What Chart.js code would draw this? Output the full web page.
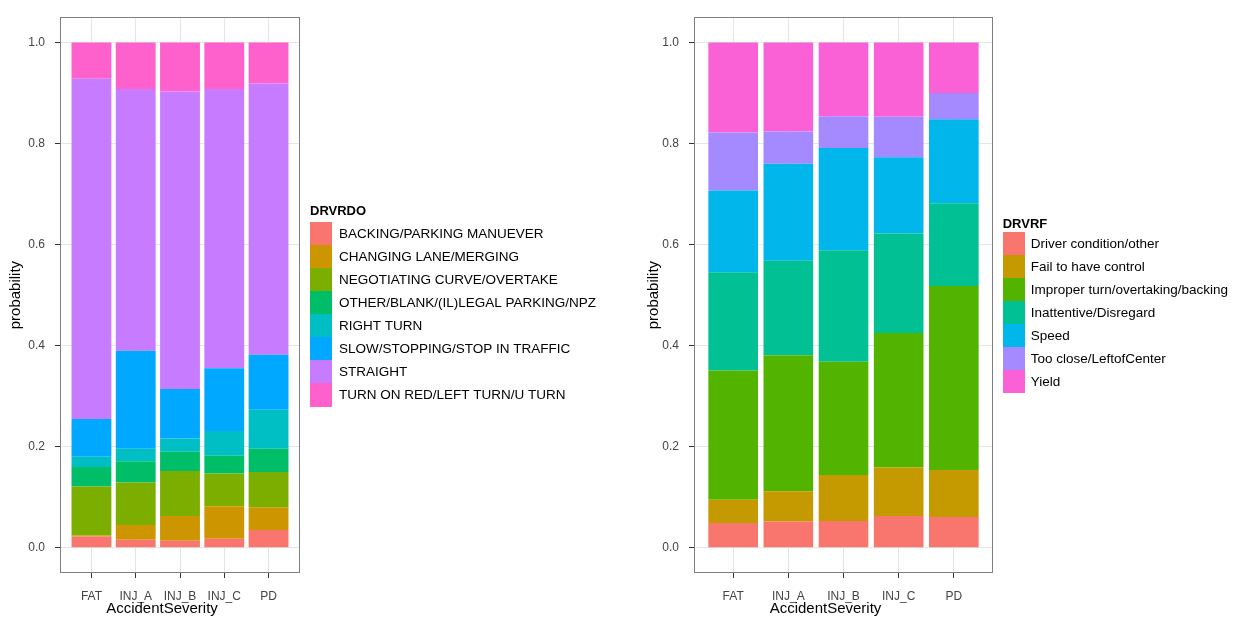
<!DOCTYPE html>
<html>
<head>
<meta charset="utf-8">
<title>Driver action and driver factor by accident severity</title>
<script src="https://cdn.jsdelivr.net/npm/chart.js@4.4.0/dist/chart.umd.min.js"></script>
<style>
  html, body { margin: 0; padding: 0; background: #ffffff; }
  #wrap { position: relative; width: 1242px; height: 618px; overflow: hidden; background: #ffffff; }
  .panel { position: absolute; top: 0; height: 618px; }
  canvas { display: block; }
</style>
</head>
<body>
<div id="wrap">
  <div class="panel" style="left:0; width:621px;"><canvas id="drvrdoChart" width="621" height="618"></canvas></div>
  <div class="panel" style="left:621px; width:621px;"><canvas id="drvrfChart" width="621" height="618"></canvas></div>
</div>
<script>
// Accident severity levels on the x axis
const severity = ['FAT', 'INJ_A', 'INJ_B', 'INJ_C', 'PD'];
// Probability axis tick values
const probTicks = [0, 0.2, 0.4, 0.6, 0.8, 1.0];

// DRVRDO (driver action) - share within each severity level
const drvrdoLabels = [
  'BACKING/PARKING MANUEVER',
  'CHANGING LANE/MERGING',
  'NEGOTIATING CURVE/OVERTAKE',
  'OTHER/BLANK/(IL)LEGAL PARKING/NPZ',
  'RIGHT TURN',
  'SLOW/STOPPING/STOP IN TRAFFIC',
  'STRAIGHT',
  'TURN ON RED/LEFT TURN/U TURN'
];
const backingParking   = [0.022, 0.016, 0.014, 0.018, 0.035];
const changingLane     = [0.002, 0.029, 0.049, 0.064, 0.045];
const negotiatingCurve = [0.097, 0.084, 0.089, 0.065, 0.070];
const otherParking     = [0.039, 0.042, 0.038, 0.035, 0.046];
const rightTurn        = [0.020, 0.025, 0.026, 0.049, 0.077];
const slowStopping     = [0.075, 0.194, 0.098, 0.124, 0.109];
const straight         = [0.673, 0.518, 0.589, 0.553, 0.537];
const turnOnRed        = [0.072, 0.092, 0.097, 0.092, 0.081];

// DRVRF (driver factor) - share within each severity level
const drvrfLabels = [
  'Driver condition/other',
  'Fail to have control',
  'Improper turn/overtaking/backing',
  'Inattentive/Disregard',
  'Speed',
  'Too close/LeftofCenter',
  'Yield'
];
const driverCondition = [0.049, 0.052, 0.053, 0.063, 0.061];
const failControl     = [0.046, 0.060, 0.091, 0.096, 0.093];
const improperTurn    = [0.256, 0.269, 0.224, 0.266, 0.364];
const inattentive     = [0.194, 0.187, 0.221, 0.197, 0.164];
const speed           = [0.162, 0.192, 0.202, 0.151, 0.166];
const tooClose        = [0.115, 0.064, 0.063, 0.080, 0.052];
const yieldFactor     = [0.178, 0.176, 0.146, 0.147, 0.100];

// Discrete hue palettes
const hue8 = ['#F8766D', '#CD9600', '#7CAE00', '#00BE67', '#00BFC4', '#00A9FF', '#C77CFF', '#FF61CC'];
const hue7 = ['#F8766D', '#C49A00', '#53B400', '#00C094', '#00B6EB', '#A58AFF', '#FB61D7'];

const FONT = '"Liberation Sans", Arial, Helvetica, sans-serif';
const EXPAND = 0.71;

function makeDatasets(labels, seriesList, colors) {
  return labels.map((label, k) => ({
    label: label,
    data: seriesList[k].map((v, i) => ({ x: i + 1, y: v })),
    backgroundColor: colors[k],
    borderWidth: 0,
    categoryPercentage: 0.9,
    barPercentage: 1.0
  }));
}

// Grey box around the plotting panel
const panelFrame = {
  id: 'panelFrame',
  afterDatasetsDraw(chart) {
    const { left, top, right, bottom } = chart.chartArea;
    const ctx = chart.ctx;
    ctx.save();
    ctx.strokeStyle = '#7f7f7f';
    ctx.lineWidth = 1;
    ctx.strokeRect(Math.round(left) + 0.5, Math.round(top) + 0.5,
                   Math.round(right - left) - 1, Math.round(bottom - top) - 1);
    ctx.restore();
  }
};

// x-axis caption under the tick labels
const axisCaption = {
  id: 'axisCaption',
  afterDraw(chart, args, opts) {
    const { left, right } = chart.chartArea;
    const ctx = chart.ctx;
    ctx.save();
    ctx.font = '15px ' + FONT;
    ctx.fillStyle = '#000000';
    ctx.textAlign = 'center';
    ctx.textBaseline = 'alphabetic';
    ctx.fillText(opts.text, (left + right) / 2 + opts.shift, opts.baseline);
    ctx.restore();
  }
};

// Colour-key legend: title, contiguous key blocks, labels
const keyLegend = {
  id: 'keyLegend',
  afterDraw(chart, args, opts) {
    const ctx = chart.ctx;
    ctx.save();
    ctx.textAlign = 'left';
    ctx.textBaseline = 'middle';
    ctx.fillStyle = '#000000';
    ctx.font = 'bold 13px ' + FONT;
    ctx.fillText(opts.title, opts.x, opts.titleY);
    ctx.font = '13.5px ' + FONT;
    chart.data.datasets.forEach((ds, i) => {
      const y0 = Math.round(opts.top + i * opts.keyH);
      const y1 = Math.round(opts.top + (i + 1) * opts.keyH);
      ctx.fillStyle = ds.backgroundColor;
      ctx.fillRect(Math.round(opts.x), y0, Math.round(opts.keyW), y1 - y0);
      ctx.fillStyle = '#000000';
      ctx.fillText(ds.label, opts.labelX, (y0 + y1) / 2 + 0.5);
    });
    ctx.restore();
  }
};

function buildChart(canvasId, datasets, geom, legendOpts) {
  const canvas = document.getElementById(canvasId);
  return new Chart(canvas, {
    type: 'bar',
    data: { datasets: datasets },
    plugins: [panelFrame, axisCaption, keyLegend],
    options: {
      responsive: false,
      animation: false,
      devicePixelRatio: 1,
      layout: { padding: { left: 0, top: geom.top, right: 621 - geom.right, bottom: 0 } },
      scales: {
        x: {
          type: 'linear',
          stacked: true,
          offset: false,
          bounds: 'data',
          min: 1 - EXPAND,
          max: severity.length + EXPAND,
          afterBuildTicks: (scale) => { scale.ticks = severity.map((_, i) => ({ value: i + 1 })); },
          afterFit: (scale) => { scale.height = 618 - geom.bottom; },
          grid: { color: '#e5e5e5', lineWidth: 1, drawTicks: true, tickLength: 5, tickColor: '#333333', offset: false },
          border: { display: false },
          ticks: {
            autoSkip: false, maxRotation: 0, minRotation: 0, padding: 11,
            color: '#444444', font: { family: FONT, size: 12 },
            callback: (v) => severity[Math.round(v) - 1]
          },
          title: { display: false }
        },
        y: {
          type: 'linear',
          stacked: true,
          bounds: 'data',
          min: -0.05,
          max: 1.05,
          afterBuildTicks: (scale) => { scale.ticks = probTicks.map((v) => ({ value: v })); },
          afterFit: (scale) => { scale.width = geom.left; },
          grid: { color: '#e5e5e5', lineWidth: 1, drawTicks: true, tickLength: 5, tickColor: '#333333' },
          border: { display: false },
          ticks: {
            padding: 10, color: '#444444', font: { family: FONT, size: 12 },
            callback: (v) => Number(v).toFixed(1)
          },
          title: {
            display: true, text: 'probability', color: '#000000',
            font: { family: FONT, size: 15 }, padding: { top: geom.titlePad, bottom: 0 }
          }
        }
      },
      plugins: {
        legend: { display: false },
        tooltip: { enabled: false },
        axisCaption: { text: 'AccidentSeverity', shift: -18, baseline: 613 },
        keyLegend: legendOpts
      }
    }
  });
}

buildChart('drvrdoChart',
  makeDatasets(drvrdoLabels,
    [backingParking, changingLane, negotiatingCurve, otherParking, rightTurn, slowStopping, straight, turnOnRed],
    hue8),
  { left: 60, right: 300, top: 11, bottom: 573, titlePad: 7 },
  { title: 'DRVRDO', x: 310, titleY: 211.5, top: 221.7, keyW: 22.3, keyH: 23.1, labelX: 339 });

buildChart('drvrfChart',
  makeDatasets(drvrfLabels,
    [driverCondition, failControl, improperTurn, inattentive, speed, tooClose, yieldFactor],
    hue7),
  { left: 73, right: 372, top: 11, bottom: 573, titlePad: 24 },
  { title: 'DRVRF', x: 381.7, titleY: 224, top: 231.7, keyW: 22.3, keyH: 23.1, labelX: 409.7 });
</script>
</body>
</html>
